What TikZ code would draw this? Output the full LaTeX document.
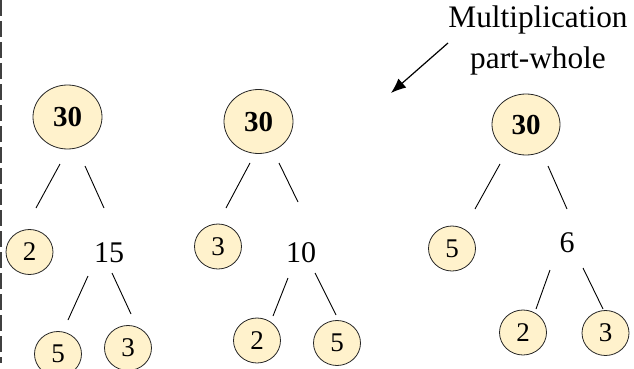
\documentclass[tikz,border=0pt]{standalone}
\usepackage{fontspec}
\setmainfont{Liberation Serif}
\usetikzlibrary{shapes.geometric,arrows.meta}
\definecolor{disc}{HTML}{FFF2CC}
\begin{document}
\begin{tikzpicture}[x=1pt,y=-1pt,
  big/.style={ellipse,draw=black!85,line width=0.8pt,fill=disc,minimum width=69pt,minimum height=64pt,inner sep=0pt,font=\fontsize{29}{34}\selectfont\bfseries},
  small/.style={ellipse,draw=black!85,line width=0.8pt,fill=disc,minimum width=47pt,minimum height=45pt,inner sep=0pt,font=\fontsize{27}{34}\selectfont},
  mid/.style={anchor=base,inner sep=0pt,font=\fontsize{30}{34}\selectfont},
  lbl/.style={anchor=base,inner sep=0pt,font=\fontsize{31.3}{34}\selectfont},
  edge/.style={line width=0.9pt}]
\useasboundingbox (0,0) rectangle (634,369);
\draw[line width=2pt,black!75,dash pattern=on 16pt off 5pt] (1,0) -- (1,363);
% labels
\node[lbl] (t1) at (538,28) {Multiplication};
\node[lbl] (t2) at (538,68) {part-whole};
\coordinate (as) at (448,43);
\coordinate (ae) at (391,93);
\draw[line width=1.2pt,-{Latex[length=15pt,width=12pt]}] (as) -- (ae);
% tree 1
\node[big] (r1) at (67.5,117) {30};
\node[small] (a1) at (29.5,252) {2};
\node[mid] (m1) at (109,262) {15};
\node[small] (b1) at (58,354) {5};
\node[small] (c1) at (128,348) {3};
\coordinate (p1) at (60,164); \coordinate (q1) at (36,208);
\coordinate (p2) at (85,166); \coordinate (q2) at (104,208);
\coordinate (p3) at (88,276); \coordinate (q3) at (68,320);
\coordinate (p4) at (112,273); \coordinate (q4) at (131,314);
\draw[edge] (p1) -- (q1); \draw[edge] (p2) -- (q2);
\draw[edge] (p3) -- (q3); \draw[edge] (p4) -- (q4);
% tree 2
\node[big] (r2) at (258.5,121.5) {30};
\node[small] (a2) at (218,246.5) {3};
\node[mid] (m2) at (301,262) {10};
\node[small] (b2) at (257,340.5) {2};
\node[small] (c2) at (337,343) {5};
\coordinate (p5) at (250,163); \coordinate (q5) at (226,208);
\coordinate (p6) at (279,163); \coordinate (q6) at (298,202);
\coordinate (p7) at (288,278); \coordinate (q7) at (273,316);
\coordinate (p8) at (315,273); \coordinate (q8) at (336,315);
\draw[edge] (p5) -- (q5); \draw[edge] (p6) -- (q6);
\draw[edge] (p7) -- (q7); \draw[edge] (p8) -- (q8);
% tree 3
\node[big,minimum height=61pt,minimum width=68pt] (r3) at (526,124.5) {30};
\node[small] (a3) at (452,248.5) {5};
\node[mid] (m3) at (567,252) {6};
\node[small] (b3) at (523,332.5) {2};
\node[small] (c3) at (605.5,333) {3};
\coordinate (p9) at (500,164); \coordinate (q9) at (475,209);
\coordinate (p10) at (548,166); \coordinate (q10) at (567,209);
\coordinate (p11) at (550,270); \coordinate (q11) at (536,309);
\coordinate (p12) at (583,268); \coordinate (q12) at (603,309);
\draw[edge] (p9) -- (q9); \draw[edge] (p10) -- (q10);
\draw[edge] (p11) -- (q11); \draw[edge] (p12) -- (q12);
\end{tikzpicture}
\end{document}
